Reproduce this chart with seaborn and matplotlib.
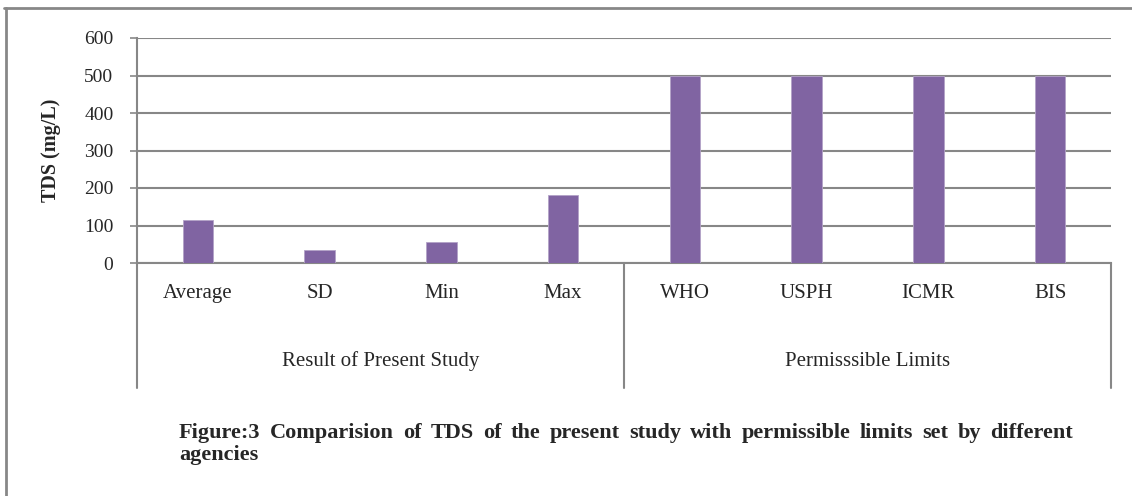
import matplotlib
matplotlib.use("Agg")
import matplotlib.pyplot as plt
from matplotlib.lines import Line2D
import seaborn as sns
import pandas as pd

# values
categories = ["Average", "SD", "Min", "Max", "WHO", "USPH", "ICMR", "BIS"]
tds_values = [116, 36, 57, 181, 500, 500, 500, 500]
groups = ["Result of Present Study", "Permisssible Limits"]
group_sizes = [4, 4]
y_ticks = [0, 100, 200, 300, 400, 500, 600]
y_label = "TDS (mg/L)"
caption_line1 = "Figure:3 Comparision of TDS of the present study with permissible limits set by different"
caption_line2 = "agencies"

sns.set_style("white")
plt.rcParams["font.family"] = ["Liberation Serif", "DejaVu Serif"]

W, H = 1132, 496
fig = plt.figure(figsize=(W / 100, H / 100), dpi=100)
ax = fig.add_axes([137 / W, 1 - 263 / H, (1111 - 137) / W, (263 - 38) / H])

df = pd.DataFrame({"cat": categories, "tds": tds_values})
sns.barplot(data=df, x="cat", y="tds", color="#8064A2", saturation=1,
            width=0.25, edgecolor="#B3A2C7", linewidth=0.6, ax=ax, zorder=3)

grid_col = "#878787"
ax.set_ylim(0, 600)
ax.set_xlim(-0.5, len(categories) - 0.5)
ax.set_yticks(y_ticks)
ax.set_yticklabels([str(v) for v in y_ticks], fontsize=14)
ax.yaxis.grid(True, color=grid_col, linewidth=1.5, zorder=0)
ax.set_axisbelow(True)
ax.tick_params(axis="y", length=5, width=1.2, color=grid_col, pad=12, left=True)
ax.tick_params(axis="x", length=0, pad=15, labelsize=15)
ax.set_xticks(range(len(categories)))
ax.set_xticklabels(categories)
ax.set_xlabel("")
ax.set_ylabel("")
for s in ["top", "right"]:
    ax.spines[s].set_visible(False)
for s in ["left", "bottom"]:
    ax.spines[s].set_color(grid_col)
    ax.spines[s].set_linewidth(1.5)

fig.text(51 / W, 1 - 150 / H, y_label, rotation=90, fontsize=14.5,
         fontweight="bold", ha="center", va="center")

# group axis: separators and group names
trans = ax.get_xaxis_transform()
y_end = (263 - 388) / (263 - 38)
pos = -0.5
seps = [pos]
for g, n in zip(groups, group_sizes):
    ax.text(pos + n / 2, (263 - 361) / (263 - 38), g, transform=trans,
            ha="center", va="center", fontsize=15)
    pos += n
    seps.append(pos)
for x in seps:
    ax.plot([x, x], [0, y_end], transform=trans, color=grid_col,
            linewidth=1.5, clip_on=False)

# outer frame (top and left edges)
fig.add_artist(Line2D([4 / W, 1], [1 - 8 / H, 1 - 8 / H], color=grid_col, linewidth=2))
fig.add_artist(Line2D([5.5 / W, 5.5 / W], [1 - 8 / H, 0], color=grid_col, linewidth=2))

# justified caption
x0, x1 = 179, 1073
cap_kw = dict(fontsize=16, fontweight="bold", va="baseline", ha="left")
words = caption_line1.split(" ")
texts = [fig.text(0, 1 - 438 / H, w, **cap_kw) for w in words]
fig.canvas.draw()
r = fig.canvas.get_renderer()
widths = [t.get_window_extent(r).width for t in texts]
gap = (x1 - x0 - sum(widths)) / (len(words) - 1)
x = x0
for t, w in zip(texts, widths):
    t.set_x(x / W)
    x += w + gap
fig.text(x0 / W, 1 - 460 / H, caption_line2, **cap_kw)

fig.savefig("out.png", dpi=100)
